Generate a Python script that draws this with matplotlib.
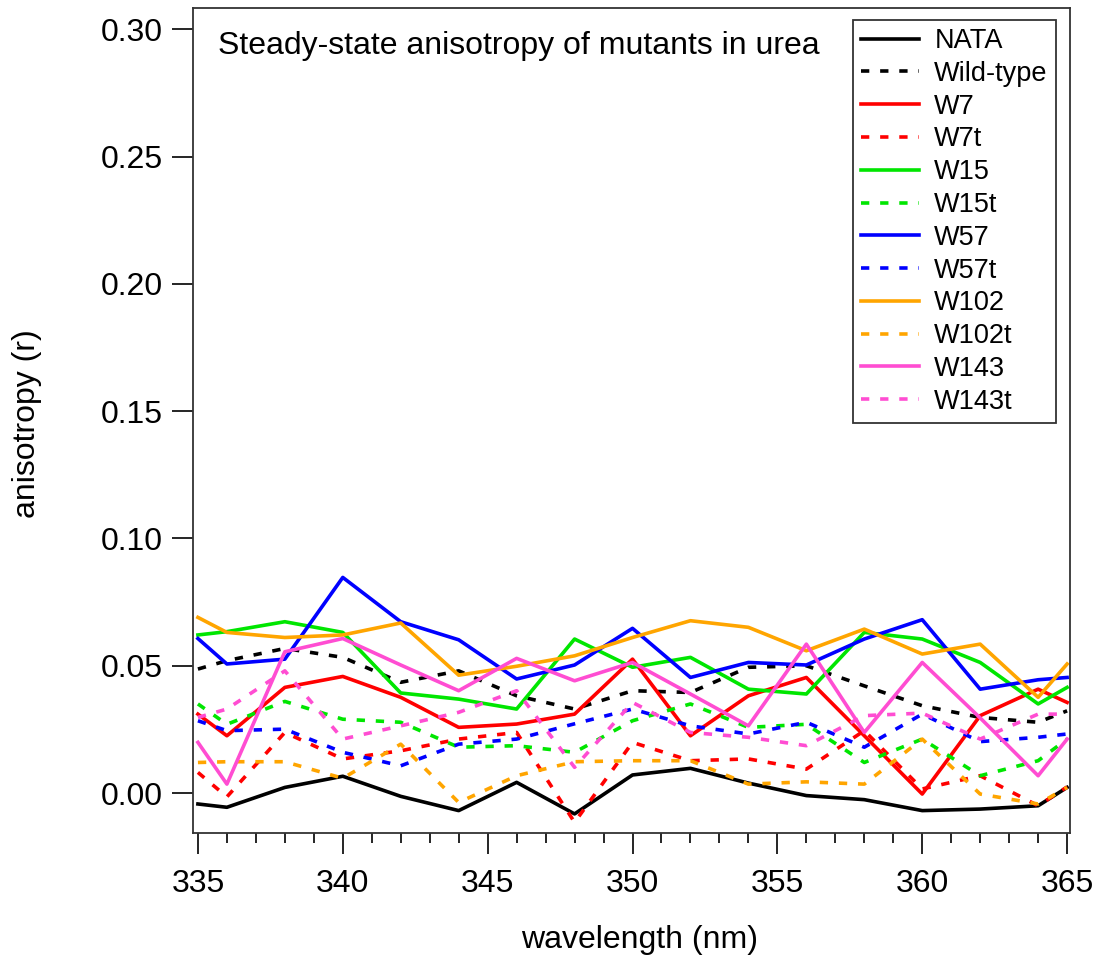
import matplotlib
matplotlib.use("Agg")
import matplotlib.pyplot as plt

plt.rcParams['font.family'] = ['Liberation Sans', 'DejaVu Sans']

wavelength = [335, 336, 338, 340, 342, 344, 346, 348, 350, 352, 354, 356, 358, 360, 362, 364, 365]

nata = [-0.0043, -0.0056, 0.0022, 0.0066, -0.0013, -0.0069, 0.0042, -0.0082, 0.0071, 0.0097,
        0.0039, -0.0010, -0.0026, -0.0069, -0.0063, -0.0050, 0.0022]
wild_type = [0.0487, 0.0520, 0.0568, 0.0533, 0.0435, 0.0480, 0.0382, 0.0330, 0.0402, 0.0395,
             0.0494, 0.0500, 0.0421, 0.0343, 0.0297, 0.0278, 0.0323]
w7 = [0.0310, 0.0225, 0.0415, 0.0458, 0.0376, 0.0258, 0.0271, 0.0310, 0.0526, 0.0225,
      0.0382, 0.0454, 0.0225, -0.0004, 0.0304, 0.0408, 0.0356]
w7t = [0.0081, -0.0015, 0.0238, 0.0134, 0.0166, 0.0212, 0.0238, -0.0115, 0.0199, 0.0127,
       0.0134, 0.0094, 0.0245, 0.0016, 0.0068, -0.0050, 0.0024]
w15 = [0.0621, 0.0634, 0.0673, 0.0631, 0.0393, 0.0369, 0.0330, 0.0605, 0.0494, 0.0533,
       0.0408, 0.0389, 0.0631, 0.0605, 0.0513, 0.0350, 0.0415]
w15t = [0.0350, 0.0270, 0.0360, 0.0290, 0.0278, 0.0180, 0.0186, 0.0160, 0.0284, 0.0350,
        0.0258, 0.0270, 0.0120, 0.0212, 0.0068, 0.0127, 0.0212]
w57 = [0.0607, 0.0507, 0.0526, 0.0847, 0.0673, 0.0602, 0.0448, 0.0503, 0.0647, 0.0454,
       0.0513, 0.0503, 0.0605, 0.0681, 0.0408, 0.0445, 0.0454]
w57t = [0.0284, 0.0245, 0.0251, 0.0160, 0.0107, 0.0192, 0.0212, 0.0272, 0.0330, 0.0264,
        0.0232, 0.0278, 0.0180, 0.0310, 0.0202, 0.0219, 0.0232]
w102 = [0.0690, 0.0631, 0.0611, 0.0621, 0.0668, 0.0463, 0.0498, 0.0539, 0.0611, 0.0677,
        0.0651, 0.0559, 0.0644, 0.0546, 0.0585, 0.0376, 0.0507]
w102t = [0.0120, 0.0123, 0.0123, 0.0058, 0.0192, -0.0037, 0.0068, 0.0123, 0.0127, 0.0127,
         0.0035, 0.0044, 0.0035, 0.0212, -0.0004, -0.0043, 0.0022]
w143 = [0.0199, 0.0035, 0.0555, 0.0607, 0.0503, 0.0402, 0.0529, 0.0441, 0.0513, 0.0389,
        0.0264, 0.0585, 0.0238, 0.0513, 0.0295, 0.0068, 0.0212]
w143t = [0.0297, 0.0330, 0.0480, 0.0212, 0.0264, 0.0317, 0.0402, 0.0101, 0.0356, 0.0238,
         0.0219, 0.0186, 0.0304, 0.0314, 0.0212, 0.0310, 0.0310]

series = [
    ("NATA", nata, "black", "-"),
    ("Wild-type", wild_type, "black", ":"),
    ("W7", w7, "#ff0000", "-"),
    ("W7t", w7t, "#ff0000", ":"),
    ("W15", w15, "#00e600", "-"),
    ("W15t", w15t, "#00e600", ":"),
    ("W57", w57, "#0000ff", "-"),
    ("W57t", w57t, "#0000ff", ":"),
    ("W102", w102, "#ffa500", "-"),
    ("W102t", w102t, "#ffa500", ":"),
    ("W143", w143, "#ff4dd2", "-"),
    ("W143t", w143t, "#ff4dd2", ":"),
]

fig = plt.figure(figsize=(11.02, 9.61), dpi=100)
ax = fig.add_axes([193 / 1102, 128 / 961, 877 / 1102, 825 / 961])

for name, vals, col, ls in series:
    style = "-" if ls == "-" else (0, (2.3, 3.0))
    ax.plot(wavelength, vals, color=col, linestyle=style, linewidth=2.6, label=name)

ax.set_xlim(334.83, 365.1)
ax.set_ylim(-0.0157, 0.3084)
ax.set_xticks([335, 340, 345, 350, 355, 360, 365])
ax.set_xticks(range(335, 366), minor=True)
ax.set_yticks([0.0, 0.05, 0.10, 0.15, 0.20, 0.25, 0.30])
ax.set_yticklabels(["0.00", "0.05", "0.10", "0.15", "0.20", "0.25", "0.30"])
ax.tick_params(axis="both", which="major", labelsize=23, length=15, width=1.2, direction="out")
ax.tick_params(axis="x", which="major", pad=11)
ax.tick_params(axis="y", which="major", pad=7)
ax.tick_params(axis="x", which="minor", length=7.5, width=1.2, direction="out")
for sp in ax.spines.values():
    sp.set_linewidth(1.3)
    sp.set_color("#333333")

ax.text(0.0285, 0.954, "Steady-state anisotropy of mutants in urea", transform=ax.transAxes,
        fontsize=23, ha="left", va="center")

fig.text(640 / 1102, 1 - 940 / 961, "wavelength (nm)", fontsize=23, ha="center", va="center")
fig.text(27 / 1102, 1 - 424 / 961, "anisotropy (r)", fontsize=23, ha="center", va="center",
         rotation=90)

leg = ax.legend(loc="upper right", bbox_to_anchor=(1056 / 1102, 1 - 20 / 961),
                bbox_transform=fig.transFigure, fontsize=19.5, frameon=True, fancybox=False,
                framealpha=1, edgecolor="#333333", handlelength=2.15, handletextpad=0.55,
                labelspacing=0.25, borderpad=0.3, borderaxespad=0)
leg.get_frame().set_linewidth(1.3)

fig.savefig("out.png", dpi=100)
